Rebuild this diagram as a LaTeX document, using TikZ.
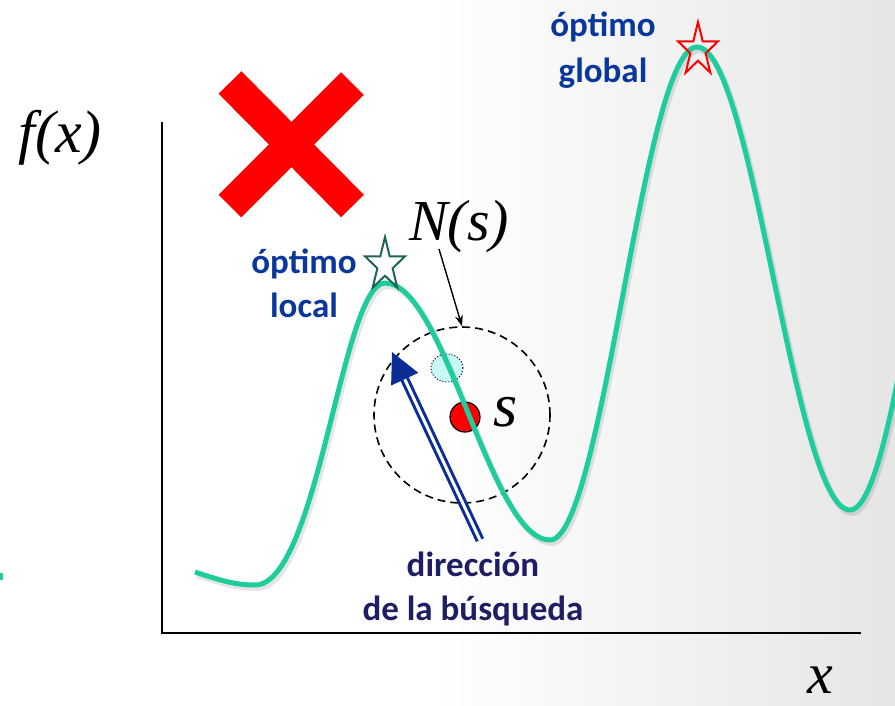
\documentclass[tikz,border=0pt]{standalone}
\usepackage{fontspec}
\setmainfont{Liberation Serif}
\newfontfamily\labfont{Carlito}
\newfontfamily\symfont{Liberation Serif}
\usetikzlibrary{shapes.geometric,calc,arrows.meta}
\definecolor{curvecol}{RGB}{30,205,155}
\definecolor{labblue}{RGB}{10,55,155}
\definecolor{navy}{RGB}{30,30,100}
\definecolor{arrowblue}{RGB}{10,45,150}
\definecolor{starteal}{RGB}{30,100,90}
\definecolor{cyanfill}{RGB}{200,248,245}
\newcommand\fxcurve{(195,572) .. controls (222,581) and (236,585) .. (255,585)
  .. controls (318,585) and (342,283) .. (385,283)
  .. controls (445,283) and (490,540) .. (550,540)
  .. controls (603,540) and (643,47) .. (697,47)
  .. controls (753,47) and (794,510) .. (850,510)
  .. controls (905,510) and (945,-60) .. (1000,-60)}
\begin{document}
\begin{tikzpicture}[x=1pt,y=-1pt,
  lab/.style={font=\labfont\bfseries\fontsize{35}{40}\selectfont, text=labblue, anchor=base, inner sep=0},
  labdir/.style={font=\labfont\bfseries\fontsize{35}{40}\selectfont, text=navy, anchor=base, inner sep=0},
  mathlab/.style={font=\symfont\itshape\fontsize{#1}{#1}\selectfont, anchor=base, inner sep=0},
  redx/.style={draw=red, line width=32pt},
  axisline/.style={draw=black, line width=2.5pt},
  curveline/.style={draw=curvecol, line width=5pt},
  shadowline/.style={draw=black, opacity=0.1, line width=6pt},
  starshape/.style={star, star points=5, star point ratio=2.618, minimum size=56pt, inner sep=0pt, line width=2pt, xscale=0.75, transform shape},
]
\useasboundingbox (0,0) rectangle (895,705);
\fill[white] (0,0) rectangle (895,705);
\shade[left color=white, right color=black!10] (430,0) rectangle (895,705);
% red cross
\draw[redx] (230,82.5) -- (352.5,206);
\draw[redx] (352.5,83.5) -- (230,206);
% axes
\draw[axisline] (162,122) -- (162,633) -- (861,633);
% small mark at left edge
\fill[curvecol] (0,573) rectangle (3,580);
% neighbourhood
\node[circle, draw=black, dash pattern=on 8pt off 5pt, line width=1.6pt, minimum size=176pt, inner sep=0] (nbhd) at (462,415) {};
\node[ellipse, draw=black, dotted, line width=1pt, fill=cyanfill, minimum width=32pt, minimum height=28pt, inner sep=0] (cand) at (447,368) {};
\node[circle, fill=red, draw=black, line width=1.2pt, minimum size=30pt, inner sep=0] (sdot) at (465,417) {};
% curve
\begin{scope}
\clip (0,0) rectangle (895,705);
\draw[shadowline, shift={(2,3)}] \fxcurve;
\draw[curveline] \fxcurve;
\end{scope}
% stars
\node[starshape, draw=starteal] (lstar) at (385,265) {};
\node[starshape, draw=red] (gstar) at (698,50) {};
% labels
\node[lab] (loc1) at (304,273) {óptimo};
\node[lab] (loc2) at (304,317) {local};
\node[lab] (glo1) at (603,36) {óptimo};
\node[lab] (glo2) at (603,82) {global};
\node[labdir] (dir1) at (473,576) {dirección};
\node[labdir] (dir2) at (473,620) {de la búsqueda};
\node[mathlab=60] (fx) at (60,152) {f(x)};
\node[mathlab=58] (ns) at (459,240) {N(s)};
\node[mathlab=62] (slab) at (506,426) {s};
\node[mathlab=58] (xlab) at (820,693) {x};
% N(s) arrow
\coordinate (nsfrom) at (439,249);
\draw[line width=1.4pt, -{Stealth[length=11pt,width=8pt]}] (nsfrom) -- (nbhd.north);
% search direction arrow
\coordinate (dirtail) at (480,540);
\coordinate (dirtip) at (392,352);
\coordinate (dirbase) at ($(dirtip)!30pt!(dirtail)$);
\draw[draw=arrowblue, double=white, double distance=3pt, line width=3pt] (dirtail) -- ($(dirtip)!26pt!(dirtail)$);
\fill[arrowblue] (dirtip) -- ($(dirbase)!15pt!90:(dirtip)$) -- ($(dirbase)!15pt!-90:(dirtip)$) -- cycle;
\end{tikzpicture}
\end{document}
